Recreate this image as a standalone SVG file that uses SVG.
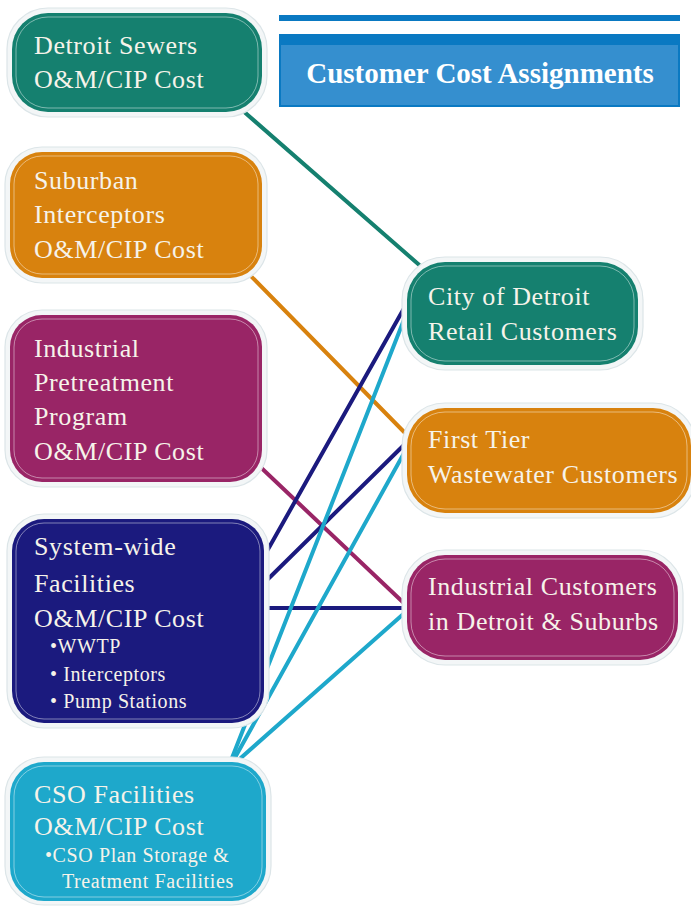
<svg xmlns="http://www.w3.org/2000/svg" width="691" height="907" viewBox="0 0 691 907">
<style>
.halo{fill:#f3f6f7;stroke:#dce5e8;stroke-width:1.2}
.in{fill:none;stroke:#ffffff;stroke-opacity:0.45;stroke-width:1}
.t{font-family:"Liberation Serif","Times New Roman",serif;font-size:26px;letter-spacing:0.6px;fill:#f6f3ea}
.s{font-size:20px}
.c{fill:none;stroke-width:4;stroke-linecap:round}
.teal{fill:#15806f}.orange{fill:#d8820e}.mag{fill:#992566}.navy{fill:#1b1a7e}.cyan{fill:#1ea8cb}
</style>
<rect width="691" height="907" fill="#ffffff"/>
<g id="connectors">
<line class="c" x1="242" y1="110" x2="425" y2="270" stroke="#15806f"/>
<line class="c" x1="243" y1="268" x2="408" y2="436" stroke="#d8820e"/>
<line class="c" x1="253" y1="460" x2="408" y2="607" stroke="#992566"/>
<line class="c" x1="262" y1="560" x2="407" y2="303" stroke="#1b1a7e"/>
<line class="c" x1="262" y1="585" x2="407" y2="442" stroke="#1b1a7e"/>
<line class="c" x1="262" y1="608" x2="408" y2="608" stroke="#1b1a7e"/>
<line class="c" x1="230" y1="763" x2="407" y2="312" stroke="#1ea8cb"/>
<line class="c" x1="232" y1="763" x2="408" y2="446" stroke="#1ea8cb"/>
<line class="c" x1="234" y1="764" x2="409" y2="609" stroke="#1ea8cb"/>
</g>
<g id="title">
<rect x="279" y="15" width="401" height="6" fill="#0a79c2"/>
<rect x="279" y="34" width="401" height="73" fill="#0a79c2"/>
<rect x="281" y="45" width="397" height="60" fill="#358fcf"/>
<text x="480" y="83" text-anchor="middle" font-family="'Liberation Serif','Times New Roman',serif" font-size="29" font-weight="bold" fill="#ffffff">Customer Cost Assignments</text>
</g>
<g id="n1">
<rect class="halo" x="7" y="8" width="260" height="109" rx="41"/>
<rect class="teal" x="12" y="13" width="250" height="99" rx="36"/>
<rect class="in" x="16" y="17" width="242" height="91" rx="32"/>
<text class="t" x="34" y="54">Detroit Sewers</text>
<text class="t" x="34" y="88">O&amp;M/CIP Cost</text>
</g>
<g id="n2">
<rect class="halo" x="5" y="147" width="262" height="136" rx="37"/>
<rect class="orange" x="10" y="152" width="252" height="126" rx="32"/>
<rect class="in" x="14" y="156" width="244" height="118" rx="28"/>
<text class="t" x="34" y="189">Suburban</text>
<text class="t" x="34" y="223">Interceptors</text>
<text class="t" x="34" y="258">O&amp;M/CIP Cost</text>
</g>
<g id="n3">
<rect class="halo" x="5" y="310" width="262" height="177" rx="37"/>
<rect class="mag" x="10" y="315" width="252" height="167" rx="32"/>
<rect class="in" x="14" y="319" width="244" height="159" rx="28"/>
<text class="t" x="34" y="357">Industrial</text>
<text class="t" x="34" y="391">Pretreatment</text>
<text class="t" x="34" y="425">Program</text>
<text class="t" x="34" y="460">O&amp;M/CIP Cost</text>
</g>
<g id="n4">
<rect class="halo" x="7" y="514" width="262" height="214" rx="37"/>
<rect class="navy" x="12" y="519" width="252" height="204" rx="32"/>
<rect class="in" x="16" y="523" width="244" height="196" rx="28"/>
<text class="t" x="34" y="555">System-wide</text>
<text class="t" x="34" y="592">Facilities</text>
<text class="t" x="34" y="627">O&amp;M/CIP Cost</text>
<text class="t s" x="50" y="653">•WWTP</text>
<text class="t s" x="50" y="681">•  Interceptors</text>
<text class="t s" x="50" y="708">•  Pump Stations</text>
</g>
<g id="n5">
<rect class="halo" x="5" y="757" width="266" height="148" rx="39"/>
<rect class="cyan" x="10" y="762" width="256" height="139" rx="34"/>
<rect class="in" x="14" y="766" width="248" height="131" rx="30"/>
<text class="t" x="34" y="803">CSO Facilities</text>
<text class="t" x="34" y="835">O&amp;M/CIP Cost</text>
<text class="t s" x="45" y="862">•CSO Plan Storage &amp;</text>
<text class="t s" x="62" y="888">Treatment Facilities</text>
</g>
<g id="r1">
<rect class="halo" x="402" y="257" width="241" height="113" rx="43"/>
<rect class="teal" x="407" y="262" width="231" height="103" rx="38"/>
<rect class="in" x="411" y="266" width="223" height="95" rx="34"/>
<text class="t" x="428" y="305">City of  Detroit</text>
<text class="t" x="428" y="340">Retail Customers</text>
</g>
<g id="r2">
<rect class="halo" x="402" y="403" width="294" height="115" rx="43"/>
<rect class="orange" x="407" y="408" width="284" height="105" rx="38"/>
<rect class="in" x="411" y="412" width="276" height="97" rx="34"/>
<text class="t" x="428" y="448">First Tier</text>
<text class="t" x="428" y="483">Wastewater Customers</text>
</g>
<g id="r3">
<rect class="halo" x="402" y="550" width="281" height="115" rx="43"/>
<rect class="mag" x="407" y="555" width="271" height="105" rx="38"/>
<rect class="in" x="411" y="559" width="263" height="97" rx="34"/>
<text class="t" x="428" y="595">Industrial Customers</text>
<text class="t" x="428" y="630">in Detroit &amp; Suburbs</text>
</g>
</svg>
